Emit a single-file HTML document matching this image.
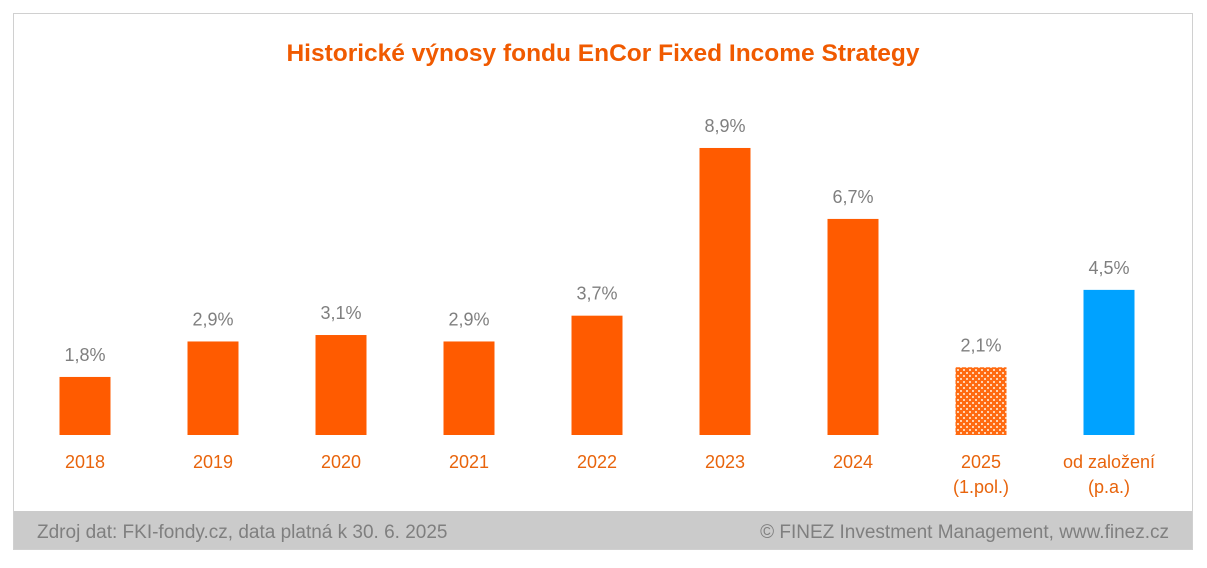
<!DOCTYPE html>
<html><head><meta charset="utf-8">
<style>
body{margin:0;background:#fff;width:1207px;height:563px;overflow:hidden;font-family:"Liberation Sans",sans-serif;}
</style></head>
<body>
<svg id="chart" width="1207" height="563" xmlns="http://www.w3.org/2000/svg">
<defs>
<pattern id="dots" width="6" height="6" patternUnits="userSpaceOnUse">
<rect width="6" height="6" fill="#ff6a10"/>
<rect x="0" y="0" width="2" height="2" fill="#ffd2b0"/>
<rect x="3" y="3" width="2" height="2" fill="#ffd2b0"/>
</pattern>
</defs>
<rect x="13.5" y="13.5" width="1179" height="536" fill="#fff" stroke="#d0d0d0"/>
<text x="603" y="61" text-anchor="middle" font-size="24.5" font-weight="bold" fill="#f05a00">Historické výnosy fondu EnCor Fixed Income Strategy</text>
<g id="bars"></g>
<rect x="14" y="511" width="1178" height="38" fill="#cbcbcb"/>
<text x="37" y="538" font-size="19" fill="#7f7f7f">Zdroj dat: FKI-fondy.cz, data platná k 30. 6. 2025</text>
<text x="1169" y="538" text-anchor="end" font-size="19" fill="#7f7f7f">© FINEZ Investment Management, www.finez.cz</text>
</svg>
<script>
const categories = [["2018"],["2019"],["2020"],["2021"],["2022"],["2023"],["2024"],["2025","(1.pol.)"],["od založení","(p.a.)"]];
const values = [1.8, 2.9, 3.1, 2.9, 3.7, 8.9, 6.7, 2.1, 4.5];
const valueLabels = ["1,8%","2,9%","3,1%","2,9%","3,7%","8,9%","6,7%","2,1%","4,5%"];
const barFills = ["#ff5b00","#ff5b00","#ff5b00","#ff5b00","#ff5b00","#ff5b00","#ff5b00","url(#dots)","#00a2ff"];

const baseY = 435, pxPerUnit = 32.25, firstX = 85, step = 128, barW = 51;
function y(v){ return baseY - v * pxPerUnit; }
function x(i){ return firstX + i * step; }
const NS = "http://www.w3.org/2000/svg";
const g = document.getElementById("bars");
values.forEach((v, i) => {
  const r = document.createElementNS(NS, "rect");
  
  
  r.setAttribute("x", x(i) - barW/2); r.setAttribute("y", y(v));
  r.setAttribute("width", barW); r.setAttribute("height", baseY - y(v));
  r.setAttribute("fill", barFills[i]);
  g.appendChild(r);
  const t = document.createElementNS(NS, "text");
  
  
  t.setAttribute("x", x(i)); t.setAttribute("y", y(v) - 16);
  t.setAttribute("text-anchor", "middle"); t.setAttribute("font-size", "18"); t.setAttribute("fill", "#7f7f7f");
  t.textContent = valueLabels[i];
  g.appendChild(t);
  categories[i].forEach((line, j) => {
    const c = document.createElementNS(NS, "text");
    
    
    c.setAttribute("x", x(i)); c.setAttribute("y", 468 + j * 25);
    c.setAttribute("text-anchor", "middle"); c.setAttribute("font-size", "18"); c.setAttribute("fill", "#e8640c");
    c.textContent = line;
    g.appendChild(c);
  });
});
</script>
</body></html>
